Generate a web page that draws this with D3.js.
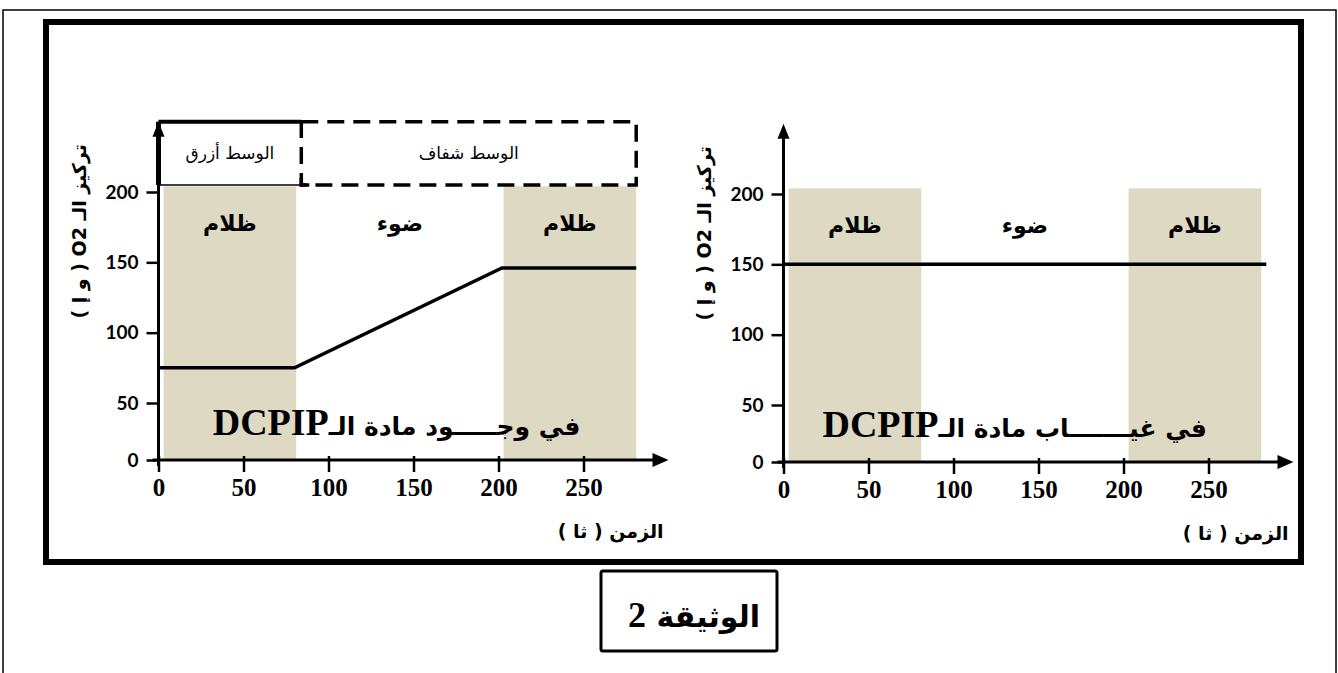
<!DOCTYPE html>
<html>
<head>
<meta charset="utf-8">
<script src="https://cdn.jsdelivr.net/npm/d3@7"></script>
<style>
  body { margin: 0; background: #fff; }
  svg { display: block; }
  .ar { font-family: "DejaVu Sans", sans-serif; }
</style>
</head>
<body>
<svg id="chart" width="1338" height="673"></svg>
<script>
const timeTicks = [0, 50, 100, 150, 200, 250];
const o2Ticks = [0, 50, 100, 150, 200];
const darkPeriods = [[3, 81], [203, 281]];
const lightPeriod = [81, 203];
const shadeTop = 204;
const darkLabel = "ظلام";
const lightLabel = "ضوء";
const withDcpip = [
  { t: 0, o2: 75 },
  { t: 80, o2: 75 },
  { t: 202, o2: 146 },
  { t: 281, o2: 146 },
];
const withoutDcpip = [
  { t: 0, o2: 150 },
  { t: 284, o2: 150 },
];
const mediumBoxes = [
  { label: "الوسط أزرق", from: 0, to: 84, dashed: false },
  { label: "الوسط شفاف", from: 84, to: 281, dashed: true },
];
const mediumRange = [205, 250];
const yTitle = "تركيز الـ O2 ( و إ )";
const xTitle = "الزمن ( ثا )";
const docTitle = "الوثيقة";
const docNumber = "2";

const svg = d3.select("#chart");

// page frames
svg.append("rect")
  .attr("x", 3).attr("y", 10).attr("width", 1333).attr("height", 680)
  .attr("fill", "none").attr("stroke", "#000").attr("stroke-width", 1.5);
svg.append("rect")
  .attr("x", 46).attr("y", 22).attr("width", 1255).attr("height", 540)
  .attr("fill", "none").attr("stroke", "#000").attr("stroke-width", 6);

function drawPanel(cfg) {
  const g = svg.append("g");
  const x = d3.scaleLinear().domain([0, 250]).range([cfg.x0, cfg.x0 + 425]);
  const y = d3.scaleLinear().domain([0, 50, 200]).range(cfg.yRange);

  // shaded dark periods
  g.selectAll(".dark")
    .data(darkPeriods)
    .enter()
    .append("rect")
    .attr("class", "dark")
    .attr("x", (d) => x(d[0]))
    .attr("width", (d) => x(d[1]) - x(d[0]))
    .attr("y", y(shadeTop))
    .attr("height", y(0) - y(shadeTop))
    .attr("fill", "#ddd9c3");

  // period labels
  const labels = darkPeriods
    .map((d) => ({ text: darkLabel, mid: (d[0] + d[1]) / 2 }))
    .concat([{ text: lightLabel, mid: (lightPeriod[0] + lightPeriod[1]) / 2 }]);
  g.selectAll(".period")
    .data(labels)
    .enter()
    .append("text")
    .attr("class", "ar")
    .attr("x", (d) => x(d.mid))
    .attr("y", y(172))
    .attr("text-anchor", "middle")
    .attr("font-weight", "bold")
    .attr("font-size", 22)
    .text((d) => d.text);

  // medium header (left panel only)
  if (cfg.media) {
    mediumBoxes.forEach((b) => {
      const x1 = x(b.from), x2 = x(b.to);
      const y1 = y(mediumRange[1]), y2 = y(mediumRange[0]);
      if (b.dashed) {
        g.append("path")
          .attr("d", `M${x1},${y1} L${x2},${y1} L${x2},${y2} L${x1},${y2} Z`)
          .attr("fill", "none")
          .attr("stroke", "#000")
          .attr("stroke-width", 3.5)
          .attr("stroke-dasharray", "17,9");
        g.append("path")
          .attr("d", `M${x1},${y2 - 7} L${x1},${y2} L${x1 + 8},${y2}`)
          .attr("fill", "none")
          .attr("stroke", "#000")
          .attr("stroke-width", 3.5);
      } else {
        g.append("line")
          .attr("x1", x1).attr("x2", x2).attr("y1", y1).attr("y2", y1)
          .attr("stroke", "#000").attr("stroke-width", 4);
        g.append("line")
          .attr("x1", x1).attr("x2", x2).attr("y1", y2).attr("y2", y2)
          .attr("stroke", "#000").attr("stroke-width", 1.5);
        g.append("line")
          .attr("x1", x1).attr("x2", x1).attr("y1", y1).attr("y2", y2)
          .attr("stroke", "#000").attr("stroke-width", 5);
      }
      g.append("text")
        .attr("class", "ar")
        .attr("x", (x1 + x2) / 2)
        .attr("y", (y1 + y2) / 2 + 6)
        .attr("text-anchor", "middle")
        .attr("font-size", 17)
        .text(b.label);
    });
  }

  // data line
  const line = d3.line().x((d) => x(d.t)).y((d) => y(d.o2));
  g.append("path")
    .datum(cfg.data)
    .attr("d", line)
    .attr("fill", "none")
    .attr("stroke", "#000")
    .attr("stroke-width", 3.5);

  // y axis
  const yAxis = g.append("g")
    .attr("transform", `translate(${cfg.x0},0)`)
    .call(d3.axisLeft(y).tickValues(o2Ticks).tickSize(12).tickPadding(8))
    .attr("font-family", "Lato, sans-serif")
    .attr("font-weight", "bold")
    .attr("font-size", 19);
  yAxis.select(".domain").remove();
  yAxis.selectAll(".tick line").attr("stroke-width", 2.5);

  // x axis
  const xAxis = g.append("g")
    .attr("transform", `translate(0,${y(0)})`)
    .call(d3.axisBottom(x).tickValues(timeTicks).tickSize(12).tickPadding(6))
    .attr("font-family", "Liberation Serif, serif")
    .attr("font-weight", "bold")
    .attr("font-size", 25);
  xAxis.select(".domain").remove();
  xAxis.selectAll(".tick line").attr("y1", -4).attr("stroke-width", 2.5);

  // axis lines with arrows
  const top = y(250), tipX = x(300);
  g.append("line")
    .attr("x1", cfg.x0).attr("x2", cfg.x0)
    .attr("y1", y(0) + 6).attr("y2", top + 10)
    .attr("stroke", "#000").attr("stroke-width", 3);
  g.append("path")
    .attr("d", `M${cfg.x0},${top} L${cfg.x0 - 6},${top + 15} L${cfg.x0 + 6},${top + 15} Z`);
  g.append("line")
    .attr("x1", cfg.x0 - 6).attr("x2", tipX - 10)
    .attr("y1", y(0)).attr("y2", y(0))
    .attr("stroke", "#000").attr("stroke-width", 3);
  g.append("path")
    .attr("d", `M${tipX},${y(0)} L${tipX - 16},${y(0) - 7} L${tipX - 16},${y(0) + 7} Z`);

  // condition label
  const cond = g.append("text")
    .attr("direction", "rtl")
    .attr("x", x(cfg.condAt))
    .attr("y", y(22))
    .attr("text-anchor", "middle")
    .attr("font-weight", "bold");
  cond.append("tspan").attr("class", "ar").attr("font-size", 25).text(cfg.condition);
  cond.append("tspan")
    .attr("font-family", "Liberation Serif, serif")
    .attr("font-size", 38)
    .text("DCPIP");

  // axis titles
  g.append("text")
    .attr("class", "ar")
    .attr("direction", "rtl")
    .attr("transform", `translate(${cfg.x0 - 80},${y(172)}) rotate(-90)`)
    .attr("text-anchor", "middle")
    .attr("dominant-baseline", "central")
    .attr("font-weight", "bold")
    .attr("font-size", 19)
    .text(yTitle);
  g.append("text")
    .attr("class", "ar")
    .attr("direction", "rtl")
    .attr("x", x(266))
    .attr("y", y(0) + 78)
    .attr("text-anchor", "middle")
    .attr("font-weight", "bold")
    .attr("font-size", 19)
    .text(xTitle);
}

drawPanel({
  x0: 158.5,
  yRange: [460, 403, 192],
  data: withDcpip,
  media: true,
  condition: "في وجـــــود مادة الـ",
  condAt: 140,
});

drawPanel({
  x0: 783.5,
  yRange: [462, 405, 194],
  data: withoutDcpip,
  media: false,
  condition: "في غيـــــــاب مادة الـ",
  condAt: 136,
});

// document caption
svg.append("rect")
  .attr("x", 601).attr("y", 571).attr("width", 176).attr("height", 80)
  .attr("rx", 2)
  .attr("fill", "none").attr("stroke", "#000").attr("stroke-width", 3);
const cap = svg.append("text")
  .attr("direction", "rtl")
  .attr("x", 694).attr("y", 627)
  .attr("text-anchor", "middle")
  .attr("font-weight", "bold");
cap.append("tspan").attr("class", "ar").attr("font-size", 30).text(docTitle + " ");
cap.append("tspan")
  .attr("font-family", "Liberation Serif, serif")
  .attr("font-size", 36)
  .text(docNumber);
</script>
</body>
</html>
